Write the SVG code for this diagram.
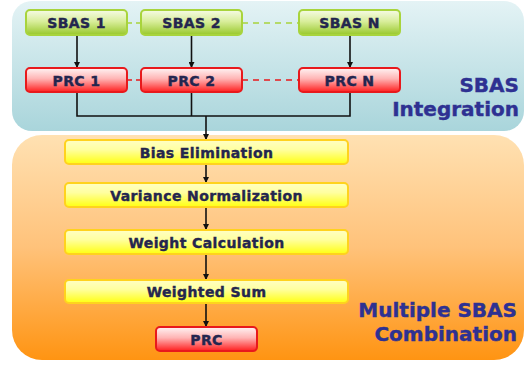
<svg xmlns="http://www.w3.org/2000/svg" width="525" height="366" viewBox="0 0 525 366">
<defs>
<linearGradient id="gTop" x1="0" y1="0" x2="0" y2="1"><stop offset="0" stop-color="#e4f3f5"/><stop offset="1" stop-color="#a9d5db"/></linearGradient>
<linearGradient id="gBot" x1="0" y1="0" x2="0" y2="1"><stop offset="0" stop-color="#ffe1b2"/><stop offset="0.5" stop-color="#ffc27a"/><stop offset="1" stop-color="#ff9412"/></linearGradient>
<linearGradient id="gGreen" x1="0" y1="0" x2="0" y2="1"><stop offset="0" stop-color="#f6fbe6"/><stop offset="0.45" stop-color="#d9ee9c"/><stop offset="1" stop-color="#98c82a"/></linearGradient>
<linearGradient id="gRed" x1="0" y1="0" x2="0" y2="1"><stop offset="0" stop-color="#fff4f4"/><stop offset="0.45" stop-color="#ffb4b4"/><stop offset="1" stop-color="#ff1e1e"/></linearGradient>
<linearGradient id="gYel" x1="0" y1="0" x2="0" y2="1"><stop offset="0" stop-color="#ffffc4"/><stop offset="0.4" stop-color="#ffffa0"/><stop offset="1" stop-color="#ffff10"/></linearGradient>
<marker id="arr" markerWidth="6" markerHeight="6" refX="5" refY="3" orient="auto" markerUnits="userSpaceOnUse"><path d="M0,0 L6,3 L0,6 z" fill="#111"/></marker>
</defs>
<style>
.g rect{fill:url(#gGreen);stroke:#a8d43c;stroke-width:2}
.r rect{fill:url(#gRed);stroke:#e8191c;stroke-width:2}
.y rect{fill:url(#gYel);stroke:#ffd21e;stroke-width:2}
.t{font-family:"DejaVu Sans",Verdana,sans-serif;font-weight:bold;font-size:14px;letter-spacing:0.4px;fill:#24264f;stroke:#24264f;stroke-width:0.4;text-anchor:middle}
.big{font-family:"DejaVu Sans",Verdana,sans-serif;font-weight:bold;font-size:20px;fill:#2e3192;stroke:#2e3192;stroke-width:0.4;text-anchor:end}
.c{stroke:#111;stroke-width:1.6;fill:none}
.ca{stroke:#111;stroke-width:1.6;fill:none;marker-end:url(#arr)}
</style>
<rect x="12" y="1" width="512" height="130" rx="20" fill="url(#gTop)"/>
<rect x="12" y="135" width="512" height="225" rx="30" fill="url(#gBot)"/>
<text class="big" x="519" y="92">SBAS</text>
<text class="big" x="519" y="116">Integration</text>
<text class="big" x="517" y="317">Multiple SBAS</text>
<text class="big" x="517" y="341">Combination</text>
<g id="connectors">
<line x1="127" y1="23" x2="141" y2="23" stroke="#a8d43c" stroke-width="1.6" stroke-dasharray="5,4"/>
<line x1="242" y1="23" x2="299" y2="23" stroke="#a8d43c" stroke-width="1.6" stroke-dasharray="6,5"/>
<line x1="127" y1="80" x2="141" y2="80" stroke="#e8191c" stroke-width="1.6" stroke-dasharray="5,4"/>
<line x1="242" y1="80" x2="299" y2="80" stroke="#e8191c" stroke-width="1.6" stroke-dasharray="6,5"/>
<line class="ca" x1="77" y1="35" x2="77" y2="67"/>
<line class="ca" x1="191.5" y1="35" x2="191.5" y2="67"/>
<line class="ca" x1="350" y1="35" x2="350" y2="67"/>
<polyline class="c" points="77,92 77,116 350,116 350,92"/>
<line class="c" x1="191.5" y1="92" x2="191.5" y2="116"/>
<line class="ca" x1="206" y1="116" x2="206" y2="139"/>
<line class="ca" x1="206" y1="164" x2="206" y2="182"/>
<line class="ca" x1="206" y1="207" x2="206" y2="229"/>
<line class="ca" x1="206" y1="254" x2="206" y2="279"/>
<line class="ca" x1="206" y1="303" x2="206" y2="326"/>
</g>
<g id="sbas1" class="g"><rect x="26" y="10" width="101" height="25" rx="4"/><text class="t" x="76.5" y="28">SBAS 1</text></g>
<g id="sbas2" class="g"><rect x="141" y="10" width="101" height="25" rx="4"/><text class="t" x="191.5" y="28">SBAS 2</text></g>
<g id="sbasN" class="g"><rect x="299" y="10" width="101" height="25" rx="4"/><text class="t" x="349.5" y="28">SBAS N</text></g>
<g id="prc1" class="r"><rect x="26" y="68" width="101" height="24" rx="4"/><text class="t" x="76.5" y="85.5">PRC 1</text></g>
<g id="prc2" class="r"><rect x="141" y="68" width="101" height="24" rx="4"/><text class="t" x="191.5" y="85.5">PRC 2</text></g>
<g id="prcN" class="r"><rect x="299" y="68" width="101" height="24" rx="4"/><text class="t" x="349.5" y="85.5">PRC N</text></g>
<g id="bias" class="y"><rect x="65" y="140" width="283" height="24" rx="4"/><text class="t" x="206.5" y="157.5">Bias Elimination</text></g>
<g id="variance" class="y"><rect x="65" y="183" width="283" height="24" rx="4"/><text class="t" x="206.5" y="200.5">Variance Normalization</text></g>
<g id="weight" class="y"><rect x="65" y="230" width="283" height="24" rx="4"/><text class="t" x="206.5" y="247.5">Weight Calculation</text></g>
<g id="wsum" class="y"><rect x="65" y="280" width="283" height="23" rx="4"/><text class="t" x="206.5" y="297">Weighted Sum</text></g>
<g id="prc" class="r"><rect x="156" y="327" width="101" height="24" rx="4"/><text class="t" x="206.5" y="344.5">PRC</text></g>
</svg>
